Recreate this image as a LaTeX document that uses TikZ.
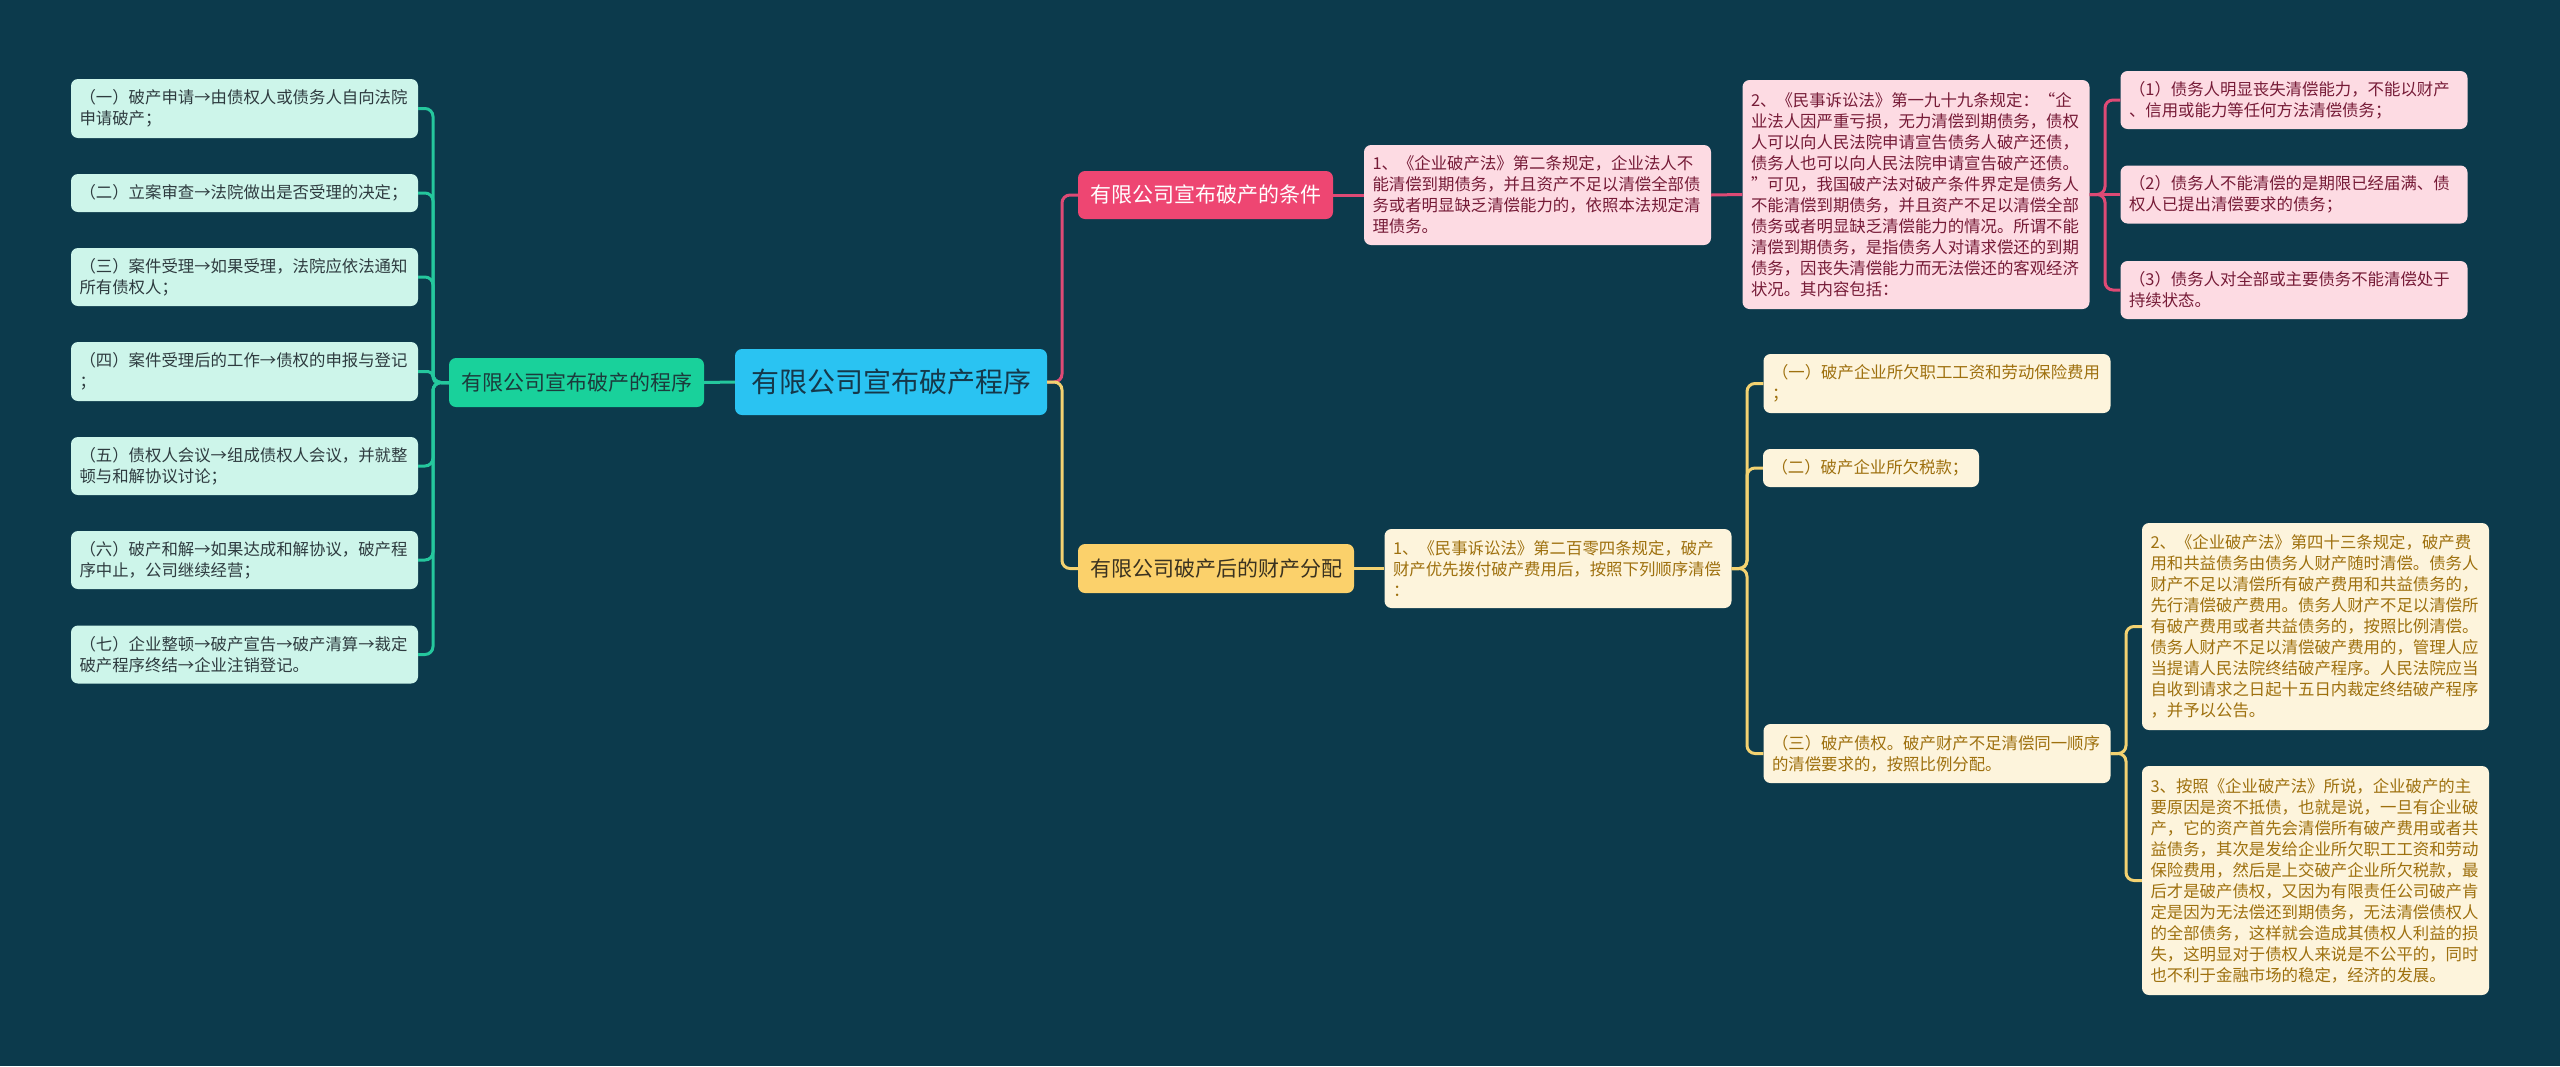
\documentclass[tikz,border=0pt]{standalone}
\usepackage{fontspec}
\setmainfont{Noto Sans CJK SC}
\definecolor{bgc}{HTML}{0C3A4C}
\definecolor{centerc}{HTML}{2AC3F2}
\definecolor{centertxt}{HTML}{15384A}
\definecolor{gtitlec}{HTML}{19D19B}
\definecolor{gtitletxt}{HTML}{1C3B3C}
\definecolor{gleafc}{HTML}{CDF5EA}
\definecolor{gleaftxt}{HTML}{2E3B3F}
\definecolor{glinec}{HTML}{25C79D}
\definecolor{ptitlec}{HTML}{EE4672}
\definecolor{pleafc}{HTML}{FDDBE3}
\definecolor{pleaftxt}{HTML}{761B37}
\definecolor{plinec}{HTML}{DE4A75}
\definecolor{ytitlec}{HTML}{FBD16B}
\definecolor{ytitletxt}{HTML}{3A3220}
\definecolor{yleafc}{HTML}{FDF4DC}
\definecolor{yleaftxt}{HTML}{9E700E}
\definecolor{ylinec}{HTML}{F3D271}
\begin{document}
\begin{tikzpicture}[x=1pt,y=-1pt,
  leafbox/.style={rounded corners=7pt, inner xsep=8.5pt, inner ysep=3pt, align=left,
    text width=330pt, font=\fontsize{16.4}{21}\selectfont, anchor=center},
  gleaf/.style={leafbox, fill=gleafc, text=gleaftxt},
  pleaf/.style={leafbox, fill=pleafc, text=pleaftxt},
  yleaf/.style={leafbox, fill=yleafc, text=yleaftxt},
  titlebox/.style={rounded corners=7pt, inner sep=0pt, align=center,
    font=\fontsize{21}{25}\selectfont, minimum height=49pt, anchor=center},
  conn/.style={line width=3pt, rounded corners=8pt},
  gline/.style={conn, draw=glinec},
  pline/.style={conn, draw=plinec},
  yline/.style={conn, draw=ylinec}]
\fill[bgc] (0,0) rectangle (2560,1066);
\useasboundingbox (0,0) rectangle (2560,1066);

% center
\node[titlebox, fill=centerc, text=centertxt, minimum width=312pt, minimum height=66pt,
  font=\fontsize{28}{32}\selectfont] (ct) at (891,382) {有限公司宣布破产程序};

% left branch
\node[titlebox, fill=gtitlec, text=gtitletxt, minimum width=255pt] (gt) at (576.5,382.5) {有限公司宣布破产的程序};
\node[gleaf, minimum height=59pt] (l1) at (244.5,108.5) {（一）破产申请→由债权人或债务人自向法院\\申请破产；};
\node[gleaf, minimum height=38pt] (l2) at (244.5,193) {（二）立案审查→法院做出是否受理的决定；};
\node[gleaf, minimum height=58pt] (l3) at (244.5,277) {（三）案件受理→如果受理，法院应依法通知\\所有债权人；};
\node[gleaf, minimum height=59pt] (l4) at (244.5,371.5) {（四）案件受理后的工作→债权的申报与登记\\；};
\node[gleaf, minimum height=58pt] (l5) at (244.5,466) {（五）债权人会议→组成债权人会议，并就整\\顿与和解协议讨论；};
\node[gleaf, minimum height=58pt] (l6) at (244.5,560) {（六）破产和解→如果达成和解协议，破产程\\序中止，公司继续经营；};
\node[gleaf, minimum height=58pt] (l7) at (244.5,654.5) {（七）企业整顿→破产宣告→破产清算→裁定\\破产程序终结→企业注销登记。};

% pink branch
\node[titlebox, fill=ptitlec, text=white, minimum width=255pt, minimum height=48pt] (pt) at (1205.5,195) {有限公司宣布破产的条件};
\node[pleaf, minimum height=100pt] (p1) at (1537.5,195) {1、《企业破产法》第二条规定，企业法人不\\能清偿到期债务，并且资产不足以清偿全部债\\务或者明显缺乏清偿能力的，依照本法规定清\\理债务。};
\node[pleaf, minimum height=229pt] (pm) at (1916,194.5) {2、《民事诉讼法》第一九十九条规定：“企\\业法人因严重亏损，无力清偿到期债务，债权\\人可以向人民法院申请宣告债务人破产还债，\\债务人也可以向人民法院申请宣告破产还债。\\”可见，我国破产法对破产条件界定是债务人\\不能清偿到期债务，并且资产不足以清偿全部\\债务或者明显缺乏清偿能力的情况。所谓不能\\清偿到期债务，是指债务人对请求偿还的到期\\债务，因丧失清偿能力而无法偿还的客观经济\\状况。其内容包括：};
\node[pleaf, minimum height=58pt] (pl1) at (2294,100) {（1）债务人明显丧失清偿能力，不能以财产\\、信用或能力等任何方法清偿债务；};
\node[pleaf, minimum height=58pt] (pl2) at (2294,194.5) {（2）债务人不能清偿的是期限已经届满、债\\权人已提出清偿要求的债务；};
\node[pleaf, minimum height=58pt] (pl3) at (2294,290) {（3）债务人对全部或主要债务不能清偿处于\\持续状态。};

% yellow branch
\node[titlebox, fill=ytitlec, text=ytitletxt, minimum width=276pt] (yt) at (1216,568.5) {有限公司破产后的财产分配};
\node[yleaf, minimum height=79pt] (y1) at (1558,568.5) {1、《民事诉讼法》第二百零四条规定，破产\\财产优先拨付破产费用后，按照下列顺序清偿\\：};
\node[yleaf, minimum height=59pt] (ya) at (1937,383.5) {（一）破产企业所欠职工工资和劳动保险费用\\；};
\node[yleaf, minimum height=38pt, text width=199pt] (yb) at (1871,468) {（二）破产企业所欠税款；};
\node[yleaf, minimum height=59pt] (yc) at (1937,753.5) {（三）破产债权。破产财产不足清偿同一顺序\\的清偿要求的，按照比例分配。};
\node[yleaf, minimum height=207pt] (y2) at (2315.5,626.5) {2、《企业破产法》第四十三条规定，破产费\\用和共益债务由债务人财产随时清偿。债务人\\财产不足以清偿所有破产费用和共益债务的，\\先行清偿破产费用。债务人财产不足以清偿所\\有破产费用或者共益债务的，按照比例清偿。\\债务人财产不足以清偿破产费用的，管理人应\\当提请人民法院终结破产程序。人民法院应当\\自收到请求之日起十五日内裁定终结破产程序\\，并予以公告。};
\node[yleaf, minimum height=229pt] (y3) at (2315.5,880.5) {3、按照《企业破产法》所说，企业破产的主\\要原因是资不抵债，也就是说，一旦有企业破\\产，它的资产首先会清偿所有破产费用或者共\\益债务，其次是发给企业所欠职工工资和劳动\\保险费用，然后是上交破产企业所欠税款，最\\后才是破产债权，又因为有限责任公司破产肯\\定是因为无法偿还到期债务，无法清偿债权人\\的全部债务，这样就会造成其债权人利益的损\\失，这明显对于债权人来说是不公平的，同时\\也不利于金融市场的稳定，经济的发展。};

% connectors
\coordinate (tL) at (433,382.5);
\foreach \n in {l1,l2,l3,l5,l6,l7} \draw[gline] (gt.west) -- (tL) |- (\n.east);
\draw[gline, rounded corners=5pt] (gt.west) -- (tL) |- (l4.east);
\draw[gline] (gt.east) -- (ct.west);

\coordinate (tC) at (1062,382);
\draw[pline] (ct.east) -- (tC) |- (pt.west);
\draw[yline] (ct.east) -- (tC) |- (yt.west);

\draw[pline] (pt.east) -- (p1.west);
\draw[pline] (p1.east) -- (pm.west);
\coordinate (tP) at (2105,194.5);
\draw[pline] (pm.east) -- (tP) |- (pl1.west);
\draw[pline] (pm.east) -- (pl2.west);
\draw[pline] (pm.east) -- (tP) |- (pl3.west);

\draw[yline] (yt.east) -- (y1.west);
\coordinate (tY) at (1747,568.5);
\draw[yline] (y1.east) -- (tY) |- (ya.west);
\draw[yline] (y1.east) -- (tY) |- (yb.west);
\draw[yline] (y1.east) -- (tY) |- (yc.west);
\coordinate (tY3) at (2126,753.5);
\draw[yline] (yc.east) -- (tY3) |- (y2.west);
\draw[yline] (yc.east) -- (tY3) |- (y3.west);
\end{tikzpicture}
\end{document}
